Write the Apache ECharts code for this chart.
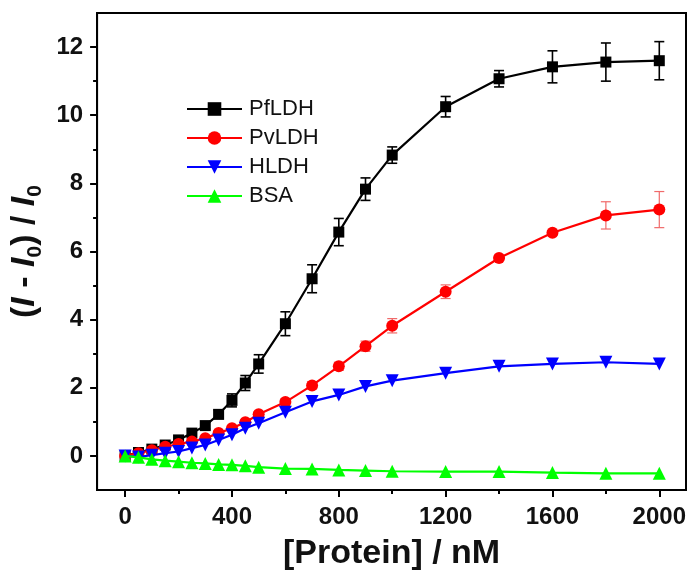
<!DOCTYPE html>
<html>
<head>
<meta charset="utf-8">
<script src="https://cdn.jsdelivr.net/npm/echarts@6/dist/echarts.min.js"></script>
<style>
html,body{margin:0;padding:0;background:#fff;}
#chart{width:689px;height:576px;}
</style>
</head>
<body>
<div id="chart"></div>
<script>
// ---- data ----
var concentrations = [0, 50, 100, 150, 200, 250, 300, 350, 400, 450, 500, 600, 700, 800, 900, 1000, 1200, 1400, 1600, 1800, 2000];
var seriesNames = ['PfLDH', 'PvLDH', 'HLDH', 'BSA'];
var pfLDH = [0, 0.1, 0.2, 0.32, 0.47, 0.67, 0.89, 1.22, 1.63, 2.14, 2.7, 3.88, 5.2, 6.57, 7.83, 8.83, 10.25, 11.07, 11.42, 11.56, 11.6];
var pfLDHErr = [0.03, 0.04, 0.05, 0.06, 0.07, 0.08, 0.1, 0.12, 0.19, 0.22, 0.27, 0.35, 0.41, 0.4, 0.33, 0.24, 0.3, 0.24, 0.47, 0.56, 0.56];
var pvLDH = [0, 0.08, 0.17, 0.27, 0.35, 0.42, 0.52, 0.67, 0.81, 0.99, 1.22, 1.58, 2.07, 2.63, 3.22, 3.82, 4.82, 5.81, 6.55, 7.06, 7.23];
var pvLDHErr = [0.02, 0.03, 0.03, 0.04, 0.04, 0.05, 0.05, 0.06, 0.06, 0.07, 0.08, 0.1, 0.1, 0.12, 0.15, 0.21, 0.2, 0.08, 0.06, 0.4, 0.53];
var hLDH = [0, -0.03, 0.02, 0.08, 0.13, 0.23, 0.32, 0.47, 0.62, 0.81, 0.96, 1.28, 1.6, 1.79, 2.04, 2.21, 2.43, 2.63, 2.7, 2.75, 2.7];
var bsa = [0, -0.04, -0.1, -0.14, -0.17, -0.2, -0.22, -0.25, -0.26, -0.29, -0.33, -0.37, -0.38, -0.41, -0.43, -0.45, -0.46, -0.46, -0.49, -0.51, -0.51];
var xMajorTicks = [0, 400, 800, 1200, 1600, 2000];
var xMinorTicks = [200, 600, 1000, 1400, 1800];
var yMajorTicks = [0, 2, 4, 6, 8, 10, 12];
var yMinorTicks = [1, 3, 5, 7, 9, 11];

function pairs(ys) { return concentrations.map(function (x, i) { return [x, ys[i]]; }); }
function errData(ys, es) { return concentrations.map(function (x, i) { return [x, ys[i], es[i]]; }); }

function errRender(color, width) {
  return function (params, api) {
    var x = api.value(0), y = api.value(1), e = api.value(2);
    var top = api.coord([x, y + e]);
    var bot = api.coord([x, y - e]);
    var hw = 5;
    var st = { stroke: color, lineWidth: width };
    return {
      type: 'group',
      children: [
        { type: 'line', shape: { x1: top[0], y1: top[1], x2: bot[0], y2: bot[1] }, style: st },
        { type: 'line', shape: { x1: top[0] - hw, y1: top[1], x2: top[0] + hw, y2: top[1] }, style: st },
        { type: 'line', shape: { x1: bot[0] - hw, y1: bot[1], x2: bot[0] + hw, y2: bot[1] }, style: st }
      ]
    };
  };
}

var FONT = '"Liberation Sans", Arial, sans-serif';
var plain = function (v) { return String(v); };
var chart = echarts.init(document.getElementById('chart'), null, { renderer: 'canvas' });

var option = {
  animation: false,
  backgroundColor: '#fff',
  grid: { left: 97, right: 3, top: 13, bottom: 85, show: true, borderColor: '#000', borderWidth: 2, containLabel: false },
  legend: {
    orient: 'vertical',
    left: 186,
    top: 98,
    padding: 0,
    itemWidth: 55,
    itemHeight: 17,
    itemGap: 7,
    data: seriesNames,
    textStyle: { fontFamily: FONT, fontSize: 22, color: '#111', lineHeight: 22, padding: [0, 0, 0, 2] }
  },
  xAxis: [
    {
      type: 'value', min: -105, max: 2100,
      name: '[Protein] / nM', nameLocation: 'middle', nameGap: 47,
      nameTextStyle: { fontFamily: FONT, fontSize: 34, fontWeight: 'bold', color: '#111' },
      splitLine: { show: false },
      axisLine: { show: true, onZero: false, lineStyle: { color: '#000', width: 2 } },
      axisTick: { show: true, inside: false, length: 7, customValues: xMajorTicks, lineStyle: { color: '#000', width: 2 } },
      axisLabel: { show: true, margin: 15, customValues: xMajorTicks, formatter: plain, fontFamily: FONT, fontSize: 24, fontWeight: 'bold', color: '#111' }
    },
    {
      type: 'value', min: -105, max: 2100, position: 'bottom',
      splitLine: { show: false },
      axisLine: { show: false, onZero: false },
      axisTick: { show: true, inside: false, length: 4, customValues: xMinorTicks, lineStyle: { color: '#000', width: 2 } },
      axisLabel: { show: false }
    }
  ],
  yAxis: [
    {
      type: 'value', min: -1, max: 13,
      name: '{p|(}{i|I}{p| - }{i|I}{s|0}{p|) / }{i|I}{s|0}',
      nameLocation: 'middle', nameGap: 48,
      nameTextStyle: {
        fontFamily: FONT, fontSize: 34, fontWeight: 'bold', color: '#111',
        rich: {
          p: { fontFamily: FONT, fontSize: 34, fontWeight: 'bold', color: '#111' },
          i: { fontFamily: FONT, fontSize: 34, fontWeight: 'bold', fontStyle: 'italic', color: '#111' },
          s: { fontFamily: FONT, fontSize: 21, fontWeight: 'bold', color: '#111', padding: [20, 0, 0, 0] }
        }
      },
      splitLine: { show: false },
      axisLine: { show: true, onZero: false, lineStyle: { color: '#000', width: 2 } },
      axisTick: { show: true, inside: false, length: 7, customValues: yMajorTicks, lineStyle: { color: '#000', width: 2 } },
      axisLabel: { show: true, margin: 14, customValues: yMajorTicks, formatter: plain, fontFamily: FONT, fontSize: 24, fontWeight: 'bold', color: '#111' }
    },
    {
      type: 'value', min: -1, max: 13, position: 'left',
      splitLine: { show: false },
      axisLine: { show: false, onZero: false },
      axisTick: { show: true, inside: false, length: 4, customValues: yMinorTicks, lineStyle: { color: '#000', width: 2 } },
      axisLabel: { show: false }
    }
  ],
  series: [
    {
      type: 'custom', name: 'PfLDH-err', xAxisIndex: 0, yAxisIndex: 0, silent: true, z: 1,
      renderItem: errRender('#000', 1.6), data: errData(pfLDH, pfLDHErr), encode: { x: 0, y: 1 }
    },
    {
      type: 'custom', name: 'PvLDH-err', xAxisIndex: 0, yAxisIndex: 0, silent: true, z: 1,
      renderItem: errRender('#f06a6a', 1.2), data: errData(pvLDH, pvLDHErr), encode: { x: 0, y: 1 }
    },
    {
      type: 'line', name: 'PfLDH', data: pairs(pfLDH), xAxisIndex: 0, yAxisIndex: 0,
      symbol: 'rect', symbolSize: 11, showAllSymbol: true,
      lineStyle: { color: '#000', width: 2.2 }, itemStyle: { color: '#000' }, z: 2
    },
    {
      type: 'line', name: 'PvLDH', data: pairs(pvLDH), xAxisIndex: 0, yAxisIndex: 0,
      symbol: 'circle', symbolSize: 12, showAllSymbol: true,
      lineStyle: { color: '#ff0000', width: 2.2 }, itemStyle: { color: '#ff0000' }, z: 3
    },
    {
      type: 'line', name: 'HLDH', data: pairs(hLDH), xAxisIndex: 0, yAxisIndex: 0,
      symbol: 'triangle', symbolRotate: 180, symbolSize: 13, showAllSymbol: true,
      lineStyle: { color: '#0000ff', width: 2.2 }, itemStyle: { color: '#0000ff' }, z: 4
    },
    {
      type: 'line', name: 'BSA', data: pairs(bsa), xAxisIndex: 0, yAxisIndex: 0,
      symbol: 'triangle', symbolSize: 13, showAllSymbol: true,
      lineStyle: { color: '#00ff00', width: 2.2 }, itemStyle: { color: '#00ff00' }, z: 5
    }
  ]
};
chart.setOption(option);
</script>
</body>
</html>
